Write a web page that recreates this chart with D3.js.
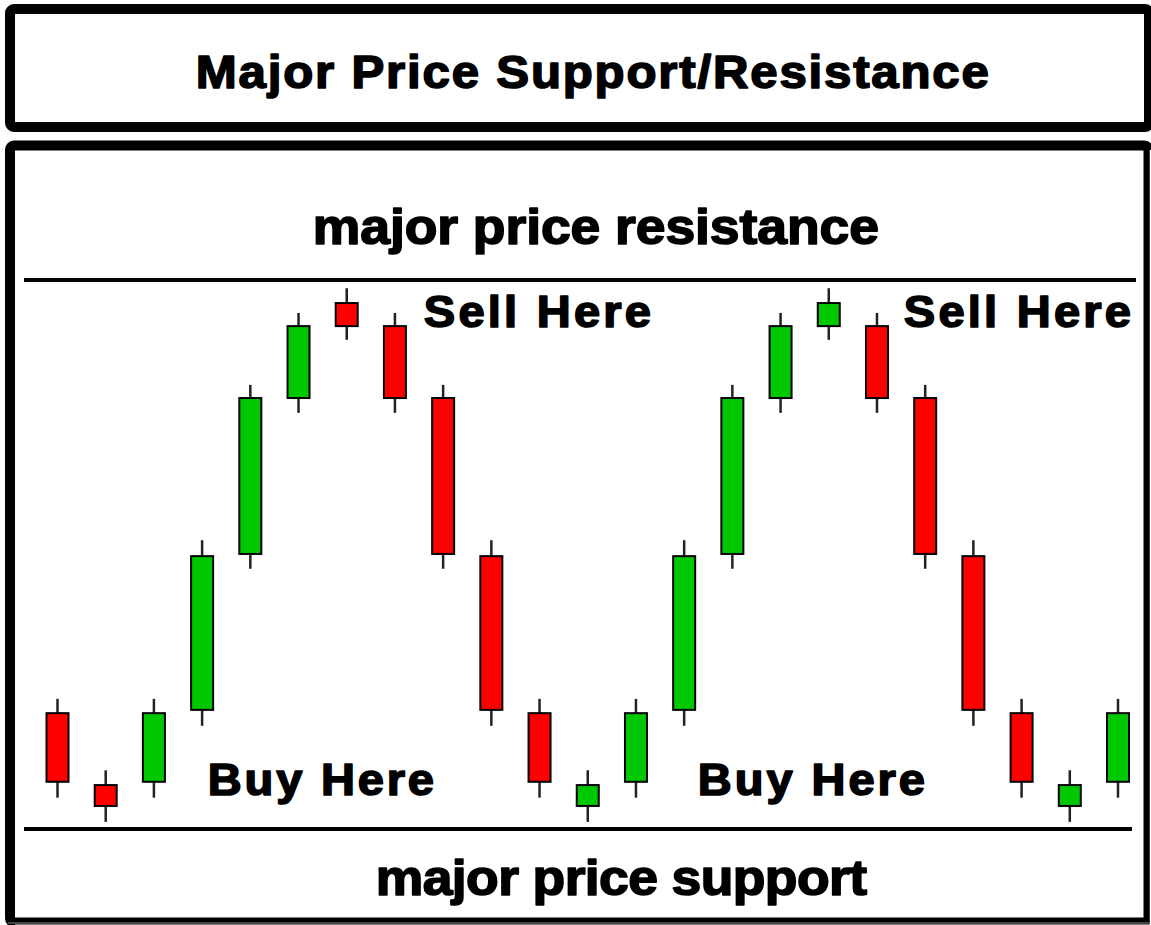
<!DOCTYPE html>
<html>
<head>
<meta charset="utf-8">
<script src="https://cdn.jsdelivr.net/npm/d3@7"></script>
<style>
    body { margin: 0; background: #fff; }
    svg { display: block; }
    .lbl { font-family: "Liberation Sans", Arial, sans-serif; font-weight: bold; fill: #000; stroke: #000; stroke-linejoin: round; }
</style>
</head>
<body>
<div id="chart"></div>
<script>
// candle data (price units, support = 0, resistance = 100)
const opens  = [21.1, 8.0, 8.6, 21.7, 50.1, 78.5, 95.8, 91.6, 78.5, 49.7, 21.1, 4.2, 8.6, 21.7, 50.1, 78.5, 91.6, 91.6, 78.5, 49.7, 21.1, 4.2, 8.6]
const highs  = [23.7, 10.7, 23.7, 52.6, 80.9, 94.0, 98.5, 94.0, 80.9, 52.6, 23.7, 10.7, 23.7, 52.6, 80.9, 94.0, 98.5, 94.0, 80.9, 52.6, 23.7, 10.7, 23.7]
const lows   = [5.7, 1.3, 5.7, 18.8, 47.4, 75.8, 89.1, 75.8, 47.4, 18.8, 5.7, 1.3, 5.7, 18.8, 47.4, 75.8, 89.1, 75.8, 47.4, 18.8, 5.7, 1.3, 5.7]
const closes = [8.6, 4.2, 21.1, 49.7, 78.5, 91.6, 91.6, 78.5, 50.1, 21.7, 8.6, 8.0, 21.1, 49.7, 78.5, 91.6, 95.8, 78.5, 50.1, 21.7, 8.6, 8.0, 21.1]

const supportLevel = 0
const resistanceLevel = 100

const titleText = "Major Price Support/Resistance"
const resistanceText = "major price resistance"
const supportText = "major price support"
const sellText = "Sell Here"
const buyText = "Buy Here"

const WIDTH = 1151
const HEIGHT = 925
const up_color = '#00c800'
const down_color = '#ff0000'

var svg = d3.select('#chart')
    .append('svg')
    .attr('width', WIDTH)
    .attr('height', HEIGHT)

var candles = opens.map(function (o, i) {
    return { i: i, open: o, high: highs[i], low: lows[i], close: closes[i] }
})

var xscale = d3.scalePoint()
    .domain(candles.map(d => d.i))
    .range([57.5, 1118])

var yscale = d3.scaleLinear()
    .domain([supportLevel, resistanceLevel])
    .range([829, 280])

// frames
svg.append('rect')
    .attr('x', 10).attr('y', 9)
    .attr('width', 1139).attr('height', 118)
    .attr('rx', 4)
    .style('fill', 'none')
    .style('stroke', '#000')
    .style('stroke-width', 10)

svg.append('rect')
    .attr('x', 10).attr('y', 145.5)
    .attr('width', 1138.5).attr('height', 777)
    .attr('rx', 4)
    .style('fill', 'none')
    .style('stroke', '#000')
    .style('stroke-width', 10)

// white cover so the right/bottom edge of the lower frame looks thin like the source crop
svg.append('rect')
    .attr('x', 1149.5).attr('y', 150).attr('width', 5).attr('height', 780)
    .style('fill', '#fff')
svg.append('rect')
    .attr('x', 15).attr('y', 924.5).attr('width', 1140).attr('height', 5)
    .style('fill', '#fff')
svg.append('line')
    .attr('x1', 1148).attr('x2', 1148).attr('y1', 148).attr('y2', 923.5)
    .style('stroke', '#000').style('stroke-width', 3)
svg.append('line')
    .attr('x1', 8).attr('x2', 1149.5).attr('y1', 923).attr('y2', 923)
    .style('stroke', '#444').style('stroke-width', 2)

// support / resistance lines
svg.append('line')
    .attr('x1', 24).attr('x2', 1136)
    .attr('y1', yscale(resistanceLevel)).attr('y2', yscale(resistanceLevel))
    .style('stroke', '#000').style('stroke-width', 4)

svg.append('line')
    .attr('x1', 24).attr('x2', 1132)
    .attr('y1', yscale(supportLevel)).attr('y2', yscale(supportLevel))
    .style('stroke', '#000').style('stroke-width', 4)

// candles
var g = svg.append('g').attr('class', 'candles')
var BODY_W = 22

g.selectAll('line.wick')
    .data(candles)
    .enter()
    .append('line')
    .attr('class', 'wick')
    .attr('x1', d => xscale(d.i)).attr('x2', d => xscale(d.i))
    .attr('y1', d => yscale(d.high)).attr('y2', d => yscale(d.low))
    .style('stroke', '#222')
    .style('stroke-width', 2.5)

g.selectAll('rect.body')
    .data(candles)
    .enter()
    .append('rect')
    .attr('class', 'body')
    .attr('x', d => xscale(d.i) - BODY_W / 2)
    .attr('y', d => yscale(Math.max(d.open, d.close)))
    .attr('width', BODY_W)
    .attr('height', d => Math.abs(yscale(d.open) - yscale(d.close)))
    .style('fill', d => d.close >= d.open ? up_color : down_color)
    .style('stroke', '#000')
    .style('stroke-width', 2)

// text labels: heavy type, a bit wider than Liberation, spacing fills the rest
const SX = 1.07
function addLabel(x, y, size, width, text, sw) {
    var t = svg.append('text')
        .attr('class', 'lbl')
        .attr('x', 0)
        .attr('y', 0)
        .style('font-size', size + 'px')
        .style('stroke-width', sw)
        .text(text)
    var len = t.node().getComputedTextLength() + sw
    var ls = (width / SX - len) / (text.length - 1)
    t.style('letter-spacing', ls + 'px')
    t.attr('transform', 'translate(' + (x + sw / 2) + ',' + y + ') scale(' + SX + ',1)')
}

addLabel(195, 88, 46, 795, titleText, 1.6)
addLabel(312, 244, 50, 568, resistanceText, 1.6)
addLabel(375, 895, 50, 493, supportText, 1.6)
addLabel(423, 327, 44, 229, sellText, 1.6)
addLabel(903, 327, 44, 229, sellText, 1.6)
addLabel(207, 795, 44, 228, buyText, 1.6)
addLabel(697, 795, 44, 229, buyText, 1.6)
</script>
</body>
</html>
